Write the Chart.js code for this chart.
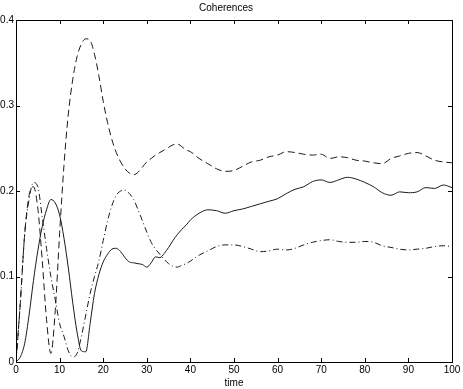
<!DOCTYPE html>
<html>
<head>
<meta charset="utf-8">
<title>Coherences</title>
<script src="https://cdn.jsdelivr.net/npm/chart.js@4.4.1/dist/chart.umd.min.js"></script>
<style>
  html, body { margin: 0; padding: 0; background: #fff; }
  #wrap { width: 463px; height: 389px; }
</style>
</head>
<body>
<div id="wrap"><canvas id="coh"></canvas></div>
<script>
// time samples
const times = [
  0, 1, 2, 3, 4, 5, 6, 7, 8, 9, 10, 11, 12, 13, 14, 15, 16, 17, 18, 19, 20,
  21, 22, 23, 24, 25, 26, 27, 28, 29, 30, 31, 32, 33, 34, 35, 36, 37, 38, 39, 40,
  42, 44, 46, 48, 50, 52, 54, 56, 58, 60, 62, 64, 66, 68, 70,
  72, 74, 76, 78, 80, 82, 84, 86, 88, 90, 92, 94, 96, 98, 100
];

// solid line
const solidVals = [
  0, 0.006, 0.022, 0.055, 0.095, 0.13, 0.158, 0.178, 0.19, 0.186, 0.172,
  0.145, 0.11, 0.07, 0.035, 0.013, 0.012, 0.045, 0.08, 0.102, 0.117,
  0.126, 0.132, 0.133, 0.129, 0.122, 0.117, 0.116, 0.115, 0.114, 0.111,
  0.116, 0.123, 0.122, 0.127, 0.134, 0.142, 0.149, 0.155, 0.16, 0.166,
  0.174, 0.178, 0.177, 0.174, 0.177, 0.179, 0.182, 0.185, 0.188, 0.191,
  0.197, 0.202, 0.205, 0.211, 0.213, 0.21, 0.213, 0.216, 0.214, 0.21,
  0.205, 0.198, 0.195, 0.199, 0.198, 0.199, 0.204, 0.203, 0.207, 0.204
];

// dashed line
const dashedVals = [
  0, 0.07, 0.15, 0.195, 0.205, 0.18, 0.12, 0.05, 0.01, 0.06, 0.15,
  0.23, 0.29, 0.33, 0.357, 0.372, 0.378, 0.376, 0.36, 0.335, 0.305,
  0.28, 0.26, 0.245, 0.234, 0.226, 0.221, 0.219, 0.222, 0.228, 0.234,
  0.238, 0.242, 0.245, 0.248, 0.251, 0.254, 0.255, 0.252, 0.248, 0.246,
  0.238, 0.232, 0.226, 0.223, 0.224, 0.229, 0.234, 0.236, 0.24, 0.242,
  0.246, 0.245, 0.243, 0.242, 0.243, 0.238, 0.24, 0.239, 0.236, 0.235,
  0.233, 0.232, 0.238, 0.241, 0.244, 0.245, 0.241, 0.236, 0.234, 0.233
];

// dash-dot line
const dashDotVals = [
  0, 0.07, 0.15, 0.19, 0.21, 0.205, 0.17, 0.133, 0.1, 0.073, 0.045,
  0.03, 0.013, 0.006, 0.01, 0.03, 0.055, 0.08, 0.1, 0.118, 0.142,
  0.165, 0.183, 0.195, 0.2, 0.201, 0.197, 0.19, 0.178, 0.165, 0.152,
  0.14, 0.132, 0.126, 0.12, 0.115, 0.112, 0.111, 0.113, 0.115, 0.118,
  0.125, 0.13, 0.135, 0.137, 0.137, 0.135, 0.132, 0.129, 0.13, 0.132,
  0.131, 0.133, 0.137, 0.14, 0.142, 0.143, 0.141, 0.14, 0.14, 0.141,
  0.14, 0.136, 0.134, 0.132, 0.131, 0.132, 0.133, 0.135, 0.136, 0.135
];

const xTicks = [0, 10, 20, 30, 40, 50, 60, 70, 80, 90, 100];
const yTicks = [0, 0.1, 0.2, 0.3, 0.4];

function toPoints(vals) {
  return times.map((t, i) => ({ x: t, y: vals[i] }));
}

function lineSet(vals, dash) {
  return {
    data: toPoints(vals),
    borderColor: "#1a1a1a",
    borderWidth: 1,
    borderDash: dash,
    pointRadius: 0,
    fill: false,
    cubicInterpolationMode: "monotone",
  };
}

// frame box with inward tick marks on all four sides
const frameTicks = {
  id: "frameTicks",
  afterDraw(chart) {
    const { ctx, chartArea: a, scales } = chart;
    ctx.save();
    ctx.strokeStyle = "#000";
    ctx.lineWidth = 1;
    ctx.strokeRect(a.left + 0.5, a.top + 0.5, a.right - a.left, a.bottom - a.top);
    ctx.beginPath();
    xTicks.forEach((v) => {
      const px = Math.round(scales.x.getPixelForValue(v)) + 0.5;
      ctx.moveTo(px, a.bottom); ctx.lineTo(px, a.bottom - 4);
      ctx.moveTo(px, a.top); ctx.lineTo(px, a.top + 4);
    });
    yTicks.forEach((v) => {
      const py = Math.round(scales.y.getPixelForValue(v)) + 0.5;
      ctx.moveTo(a.left, py); ctx.lineTo(a.left + 4, py);
      ctx.moveTo(a.right, py); ctx.lineTo(a.right - 4, py);
    });
    ctx.stroke();
    ctx.restore();
  },
};

Chart.defaults.font.family = "'Liberation Sans', Arial, sans-serif";
Chart.defaults.font.size = 10;
Chart.defaults.color = "#000";

new Chart(document.getElementById("coh"), {
  type: "line",
  data: {
    datasets: [
      lineSet(solidVals, []),
      lineSet(dashedVals, [7, 4]),
      lineSet(dashDotVals, [6, 3, 1, 3]),
    ],
  },
  options: {
    responsive: true,
    maintainAspectRatio: false,
    animation: false,
    layout: { padding: { left: 0, right: 11, top: 0, bottom: 0 } },
    plugins: {
      legend: { display: false },
      tooltip: { enabled: false },
      title: {
        display: true,
        text: "Coherences",
        font: { size: 10, weight: "normal" },
        padding: { top: 2, bottom: 6 },
      },
    },
    scales: {
      x: {
        type: "linear",
        min: 0,
        max: 100,
        afterBuildTicks: (s) => { s.ticks = xTicks.map((v) => ({ value: v })); },
        afterFit: (s) => { s.height = 27; },
        ticks: { padding: 2, maxRotation: 0 },
        grid: { display: false, drawTicks: false },
        border: { display: false },
        title: { display: true, text: "time", padding: 0, font: { size: 10 } },
      },
      y: {
        type: "linear",
        min: 0,
        max: 0.4,
        afterBuildTicks: (s) => { s.ticks = yTicks.map((v) => ({ value: v })); },
        afterFit: (s) => { s.width = 16; },
        ticks: { padding: 2, callback: (v) => String(v) },
        grid: { display: false, drawTicks: false },
        border: { display: false },
      },
    },
  },
  plugins: [frameTicks],
});
</script>
</body>
</html>
